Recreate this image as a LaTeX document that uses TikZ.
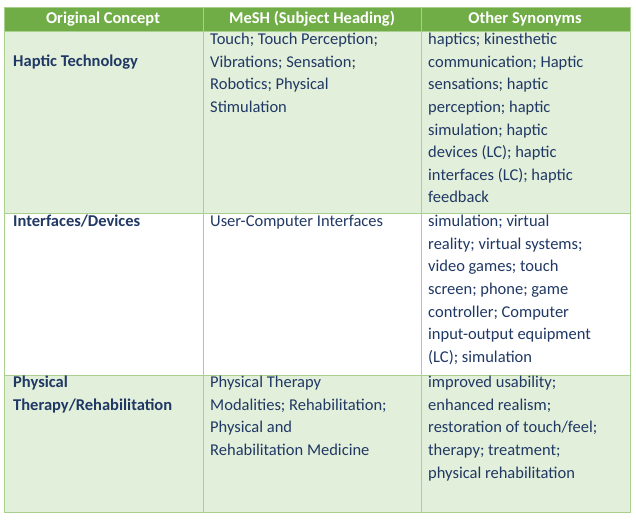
\documentclass[tikz,border=0pt]{standalone}
\usepackage{fontspec}
\setmainfont{Carlito}
\definecolor{hdr}{HTML}{70AD47}
\definecolor{lite}{HTML}{E2EFDA}
\definecolor{grid}{HTML}{A9D08E}
\definecolor{txt}{HTML}{203864}
\begin{document}
\begin{tikzpicture}[x=1pt,y=-1pt,
  cell/.style={anchor=north west,inner sep=0pt,align=left,text=txt,font=\fontsize{16.5}{22.6}\selectfont},
  head/.style={inner sep=0pt,text=white,font=\fontsize{16.5}{20}\selectfont\bfseries},
  rowhead/.style={cell,font=\fontsize{16.5}{22.6}\selectfont\bfseries}]
\useasboundingbox (0,0) rectangle (636,520);
\fill[hdr] (4,7) rectangle (630,31);
\fill[lite] (4,31) rectangle (630,213);
\fill[white] (4,213) rectangle (630,375);
\fill[lite] (4,375) rectangle (630,512);
\draw[grid,line width=1pt] (4,7) rectangle (630,512);
\foreach \y in {31,213,375} \draw[grid,line width=1pt] (4,\y) -- (630,\y);
\foreach \x in {203,421} \draw[grid,line width=1pt] (\x,7) -- (\x,512);
\node[head] (h1) at (103,19) {Original Concept};
\node[head] (h2) at (312,19) {MeSH (Subject Heading)};
\node[head] (h3) at (525,19) {Other Synonyms};
\node[rowhead] (a1) at (13,55) {Haptic Technology};
\node[cell] (b1) at (210,33) {Touch; Touch Perception;\\Vibrations; Sensation;\\Robotics; Physical\\Stimulation};
\node[cell] (c1) at (428,33) {haptics; kinesthetic\\communication; Haptic\\sensations; haptic\\perception; haptic\\simulation; haptic\\devices (LC); haptic\\interfaces (LC); haptic\\feedback};
\node[rowhead] (a2) at (13,215) {Interfaces/Devices};
\node[cell] (b2) at (210,215) {User-Computer Interfaces};
\node[cell] (c2) at (428,215) {simulation; virtual\\reality; virtual systems;\\video games; touch\\screen; phone; game\\controller; Computer\\input-output equipment\\(LC); simulation};
\node[rowhead] (a3) at (13,376) {Physical\\Therapy/Rehabilitation};
\node[cell] (b3) at (210,376) {Physical Therapy\\Modalities; Rehabilitation;\\Physical and\\Rehabilitation Medicine};
\node[cell] (c3) at (428,376) {improved usability;\\enhanced realism;\\restoration of touch/feel;\\therapy; treatment;\\physical rehabilitation};
\end{tikzpicture}
\end{document}
